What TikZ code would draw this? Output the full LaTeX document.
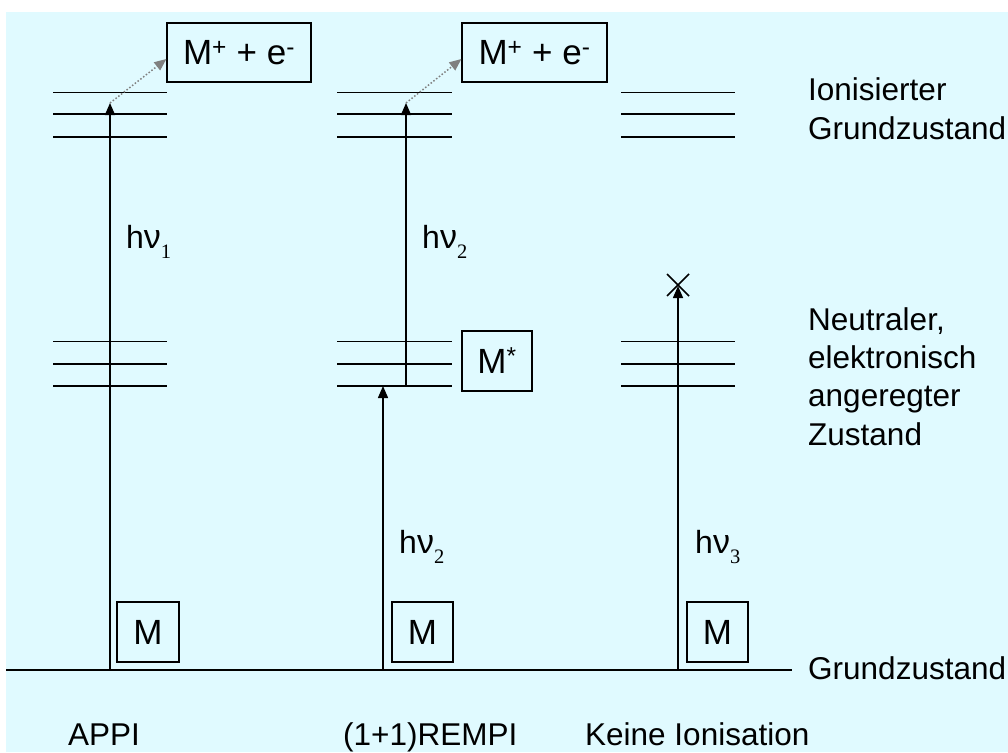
\documentclass[tikz,border=0pt]{standalone}
\usepackage{fontspec}
\setmainfont{Liberation Sans}
\newfontfamily\symf{Liberation Serif}
\usetikzlibrary{arrows.meta,calc}
\definecolor{bgc}{HTML}{E0FAFF}
\definecolor{dotc}{HTML}{808080}
\newcommand{\hnu}[1]{h{\fontsize{34}{38}\selectfont ν}\raisebox{-10pt}{\symf\fontsize{20.5}{20}\selectfont #1}}
\begin{document}
\begin{tikzpicture}[x=1pt,y=-1pt,
  lvlA/.style={line width=1pt},
  lvlB/.style={line width=1.5pt},
  lvlC/.style={line width=2pt},
  photon/.style={line width=1.5pt,-{Triangle[length=12pt,width=10pt]}},
  ionarrow/.style={dotc,line width=1.5pt,dotted,-{Triangle[length=12pt,width=10pt]}},
  box/.style={draw,line width=1.2pt,inner sep=0pt,font=\fontsize{35}{40}\selectfont},
  lbl/.style={inner sep=0pt,anchor=base west,font=\fontsize{31.5}{38.3}\selectfont,align=left},
  hvlbl/.style={inner sep=0pt,anchor=base west,font=\fontsize{32}{38}\selectfont},
]
\useasboundingbox (0,0) rectangle (1008,752);
\fill[white] (0,0) rectangle (1008,752);
\fill[bgc] (6,12) rectangle (1008,752);

% energy levels
\foreach \xa/\xb in {53/167,337/452,621/735}{
  \draw[lvlA] (\xa,92) -- (\xb,92);
  \draw[lvlB] (\xa,114) -- (\xb,114);
  \draw[lvlC] (\xa,137) -- (\xb,137);
  \draw[lvlA] (\xa,341) -- (\xb,341);
  \draw[lvlB] (\xa,364) -- (\xb,364);
  \draw[lvlC] (\xa,386) -- (\xb,386);
}
% ground state
\draw[lvlC] (6,670) -- (792,670);

% boxes
\node[box,minimum width=144pt,minimum height=59pt] (ion1) at (239,52.5) {M\textsuperscript{+} + e\textsuperscript{-}};
\node[box,minimum width=145pt,minimum height=59pt] (ion2) at (534.5,52.5) {M\textsuperscript{+} + e\textsuperscript{-}};
\node[box,minimum width=70pt,minimum height=60pt] (mstar) at (497,361) {M\textsuperscript{*}};
\node[box,minimum width=62pt,minimum height=60pt] (m1) at (148,632) {M};
\node[box,minimum width=61pt,minimum height=60pt] (m2) at (422.5,632) {M};
\node[box,minimum width=61pt,minimum height=60pt] (m3) at (717.5,632) {M};

% APPI
\coordinate (g1) at (110,670);
\coordinate (t1) at (110,103);
\draw[photon] (g1) -- (t1);
\draw[ionarrow] (t1) -- ([yshift=-6.5pt]ion1.west);

% REMPI
\coordinate (g2) at (383,670);
\coordinate (e2) at (383,386);
\draw[photon] (g2) -- (e2);
\coordinate (e2b) at (406,386);
\coordinate (t2) at (406,103);
\draw[photon] (e2b) -- (t2);
\draw[ionarrow] (t2) -- ([yshift=-6.5pt]ion2.west);

% no ionisation
\coordinate (g3) at (678,670);
\coordinate (t3) at (678,286);
\draw[photon] (g3) -- (t3);
\coordinate (x3) at (678,285);
\draw[line width=1.5pt] ($(x3)+(-11,-11)$) -- ($(x3)+(11,11)$)
                        ($(x3)+(-11,11)$) -- ($(x3)+(11,-11)$);

% photon labels
\node[hvlbl] (hv1) at (126,248) {\hnu{1}};
\node[hvlbl] (hv2a) at (422,248) {\hnu{2}};
\node[hvlbl] (hv2b) at (399,553) {\hnu{2}};
\node[hvlbl] (hv3) at (695,553) {\hnu{3}};

% state labels (base anchor = last line)
\node[lbl] (ionlbl) at (808,139) {Ionisierter\\Grundzustand};
\node[lbl] (neulbl) at (808,445) {Neutraler,\\elektronisch\\angeregter\\Zustand};
\node[lbl] (grdlbl) at (808,679) {Grundzustand};

% method labels
\node[lbl] (appi) at (68,745) {APPI};
\node[lbl] (rempi) at (343,745) {(1+1)REMPI};
\node[lbl] (keine) at (585,745) {Keine Ionisation};
\end{tikzpicture}
\end{document}
